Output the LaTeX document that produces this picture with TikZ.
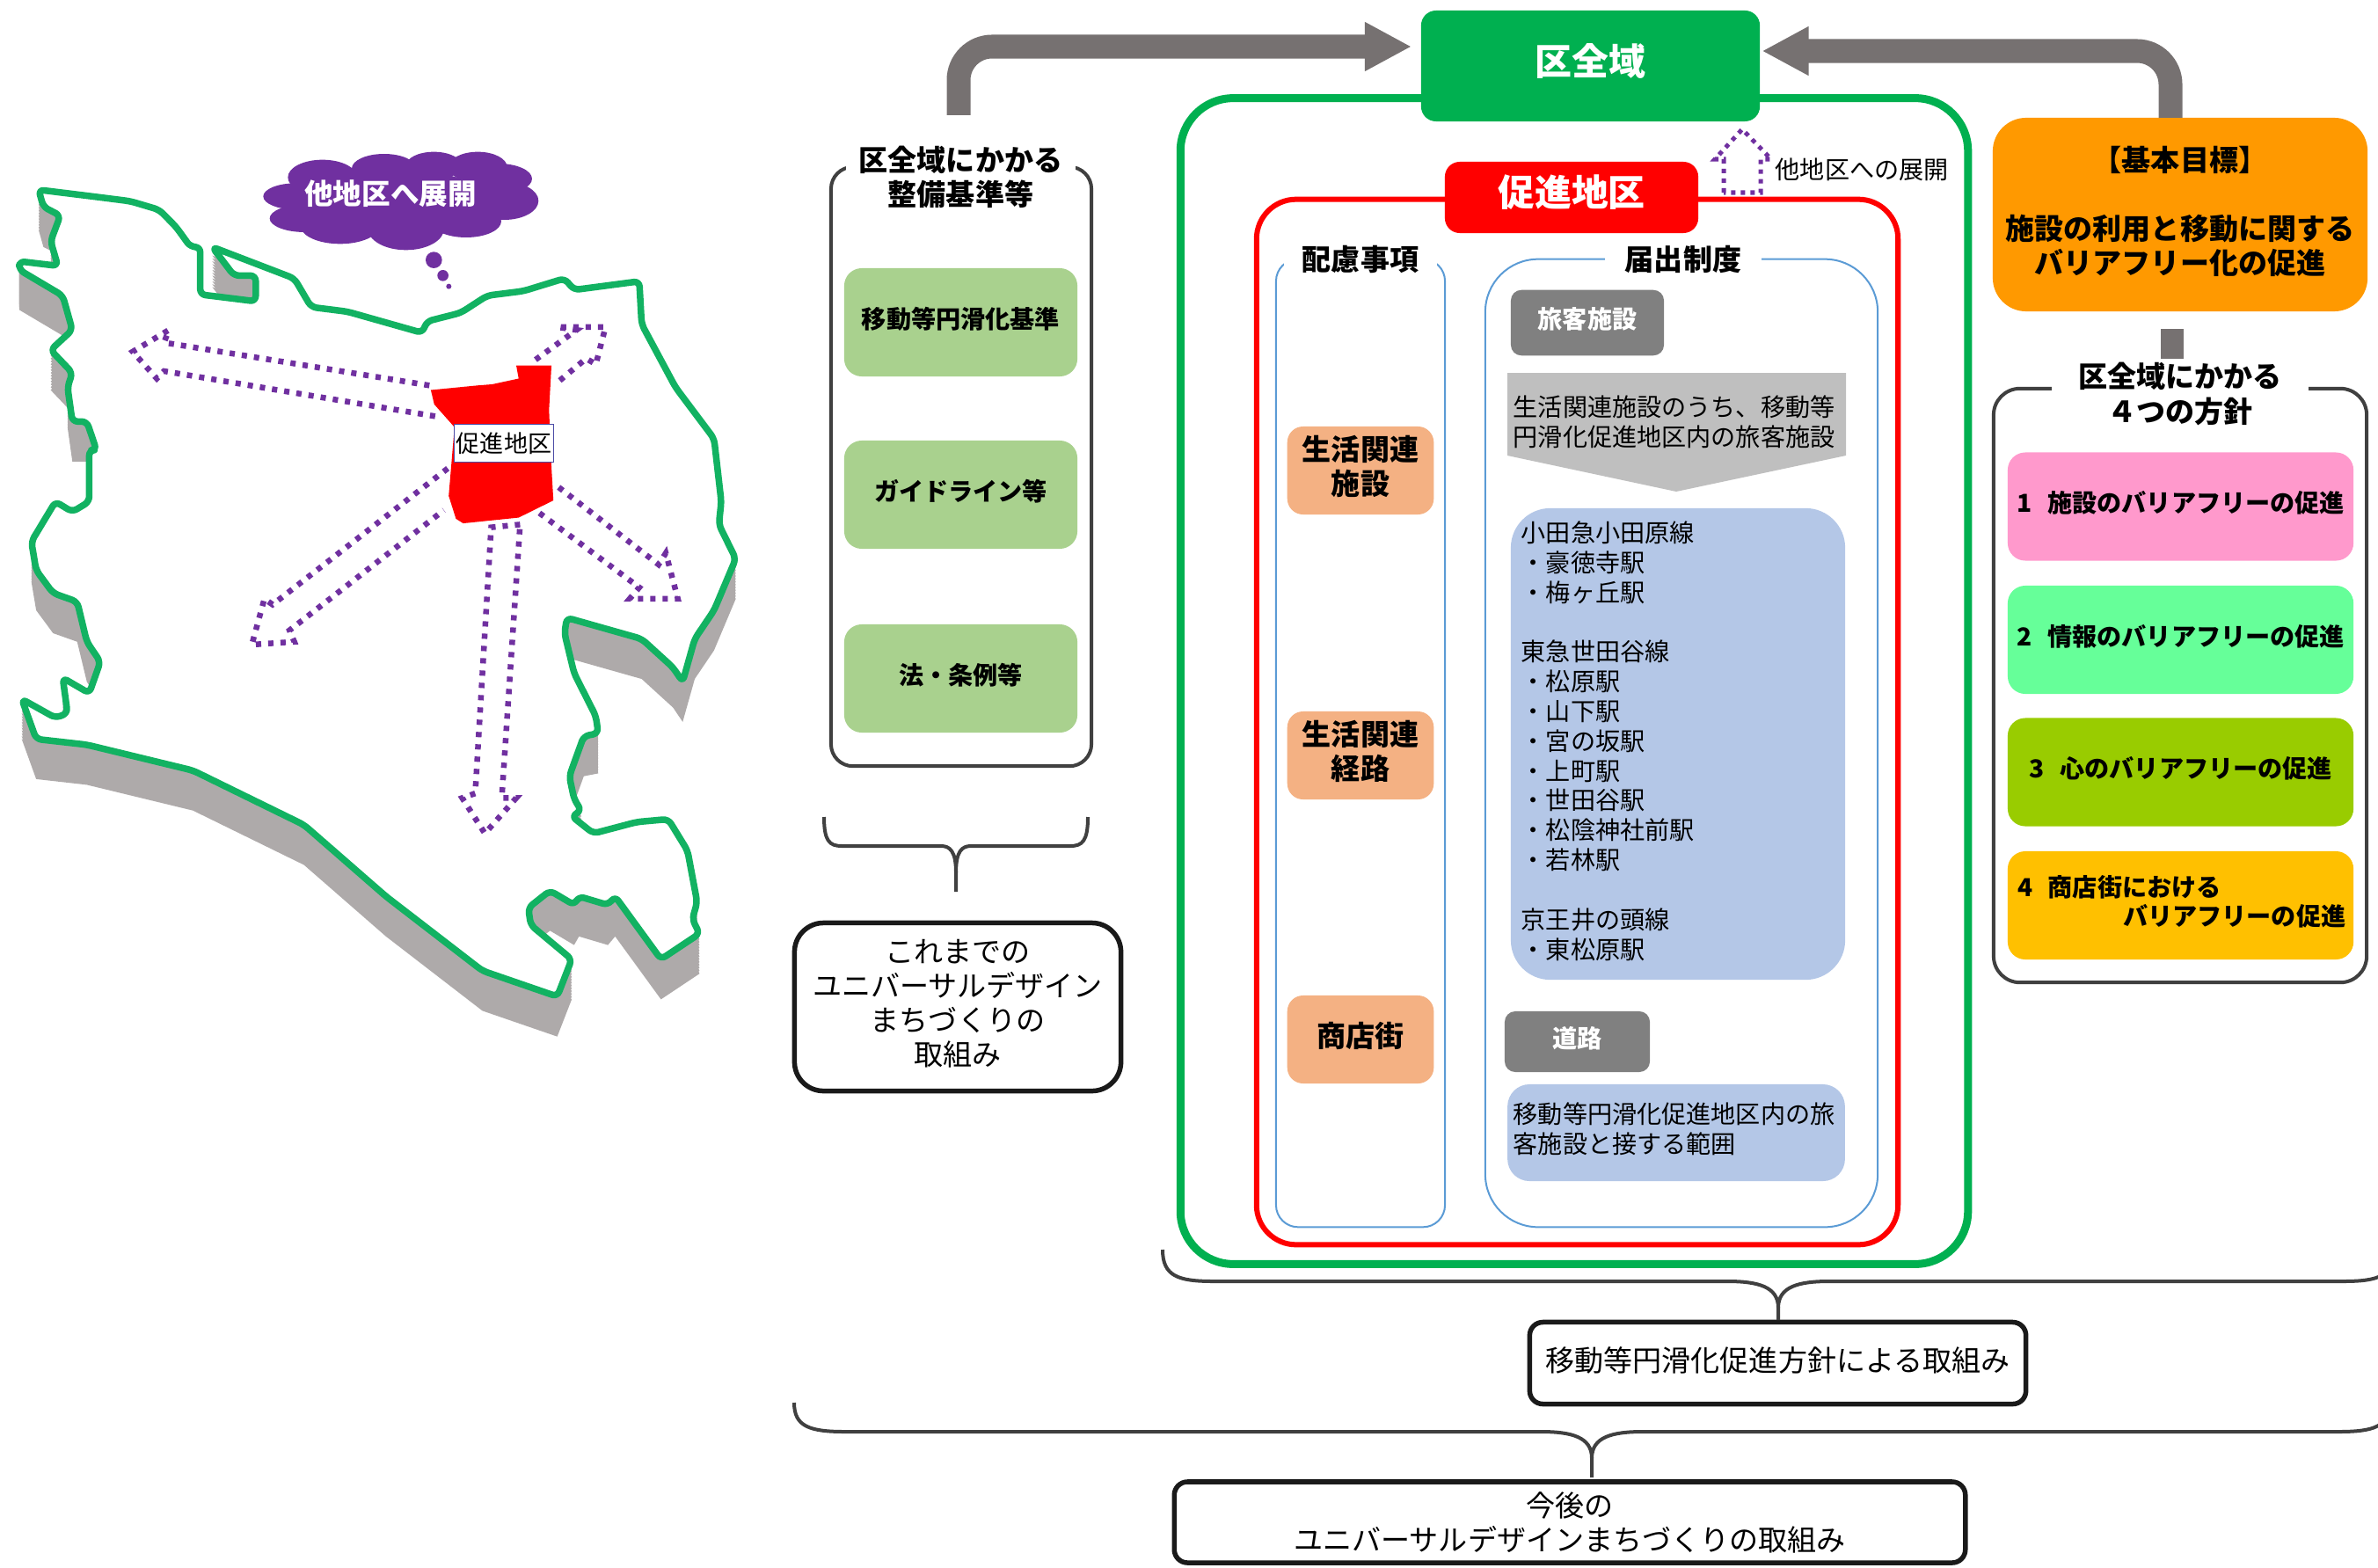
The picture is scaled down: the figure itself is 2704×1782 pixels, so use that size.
\documentclass[tikz,border=0pt]{standalone}
\usepackage{fontspec}
\setmainfont{Noto Sans CJK JP}
\usetikzlibrary{arrows.meta}

\definecolor{wardgreen}{HTML}{00B050}
\definecolor{mapgreen}{HTML}{12B262}
\definecolor{mapshadow}{HTML}{AEAAAA}
\definecolor{spreadpurple}{HTML}{7030A0}
\definecolor{arrowgrey}{HTML}{767171}
\definecolor{framegrey}{HTML}{404040}
\definecolor{boxblack}{HTML}{1A1A1A}
\definecolor{columnblue}{HTML}{5B9BD5}
\definecolor{standardgreen}{HTML}{A9D18E}
\definecolor{carepeach}{HTML}{F4B183}
\definecolor{stationblue}{HTML}{B4C7E7}
\definecolor{goalorange}{HTML}{FF9900}

\newcommand{\fsnormal}{\fontsize{8}{9.62}\selectfont}
\newcommand{\fslarge}{\fontsize{9.4}{11.1}\selectfont}
\newcommand{\fshuge}{\fontsize{11.9}{14}\selectfont}

\tikzset{
    frame/.style={draw, rounded corners=#1, inner sep=0pt},
    framelabel/.style={fill=white, inner sep=0pt, align=center, font=\fslarge\bfseries},
    filledcard/.style={rounded corners=0.2cm, inner sep=0pt, align=center, font=\fsnormal\bfseries,
        text height=0.25cm, text depth=0.12cm},
    titlebox/.style={rounded corners=0.17cm, inner sep=0pt, text=white, font=\fshuge\bfseries,
        text height=0.37cm, text depth=0.17cm},
    whitebox/.style={draw=boxblack, fill=white, line width=0.055cm, inner sep=0pt, align=center, font=\fslarge},
    greyarrow/.style={draw=arrowgrey, line width=0.27cm, rounded corners=0.38cm,
        -{Triangle[length=0.53cm,width=0.52cm]}},
    spread/.style={draw=spreadpurple, line width=0.065cm, dash pattern=on 0.06cm off 0.08cm},
    bracket/.style={draw=framegrey, line width=0.04cm}
}

\begin{document}
\begin{tikzpicture}[x=0.01cm, y=-0.01cm]
    \useasboundingbox (0,0) rectangle (2704,1782);

    % Outline of the ward
    \def\wardoutline{(80,55) -- (205,68) -- (270,75) -- (330,90) -- (365,120) -- (395,155) -- (415,155) -- (415,238) -- (530,250) -- (530,205) -- (485,205) -- (440,155) -- (610,210) -- (645,260) -- (720,268) -- (875,305) -- (885,285) -- (955,270) -- (1010,240) -- (1085,232) -- (1170,210) -- (1190,230) -- (1325,215) -- (1330,290) -- (1400,400) -- (1480,490) -- (1495,600) -- (1490,640) -- (1525,700) -- (1480,790) -- (1440,840) -- (1415,915) -- (1395,890) -- (1330,840) -- (1175,803) -- (1170,830) -- (1190,900) -- (1235,975) -- (1240,1005) -- (1210,1010) -- (1180,1080) -- (1190,1120) -- (1205,1140) -- (1185,1150) -- (1230,1180) -- (1320,1160) -- (1385,1155) -- (1425,1210) -- (1445,1300) -- (1435,1330) -- (1450,1355) -- (1370,1400) -- (1275,1290) -- (1260,1305) -- (1200,1290) -- (1190,1305) -- (1140,1280) -- (1095,1310) -- (1100,1340) -- (1185,1400) -- (1155,1465) -- (1000,1420) -- (800,1290) -- (630,1165) -- (400,1070) -- (180,1025) -- (75,1015) -- (45,945) -- (115,978) -- (140,970) -- (130,908) -- (185,935) -- (208,880) -- (180,845) -- (160,775) -- (110,760) -- (75,720) -- (65,670) -- (115,600) -- (150,618) -- (185,600) -- (185,510) -- (200,510) -- (180,460) -- (150,460) -- (140,400) -- (150,375) -- (105,335) -- (150,300) -- (130,240) -- (40,195) -- (40,180) -- (120,188) -- (105,145) -- (125,100) -- (90,85) -- cycle}

    \begin{scope}[shift={(0,180)}, xscale=0.5486, yscale=0.6506]
        % Shadow under the ward
        \foreach \d in {0,5,...,70} {
            \fill[mapshadow, shift={(0,\d)}] \wardoutline;
        }
        \draw[mapgreen, fill=white, line width=0.075cm, line join=round, rounded corners=0.06cm] \wardoutline;

        % Promotion district
        \fill[red] (893,405) -- (990,397) -- (1020,395) -- (1075,385) -- (1070,362) -- (1143,362) -- (1138,440) -- (1143,540) -- (1147,598) -- (1075,628) -- (960,638) -- (945,630) -- (930,590) -- (942,470) -- (900,430) -- cycle;

        % Dotted arrows going out of the district
        \draw[spread] (890,397) -- (340,322) -- (350,300) -- (275,338) -- (325,385) -- (340,372) -- (910,452);
        \draw[spread] (1110,352) -- (1195,300) -- (1155,295) -- (1255,295) -- (1235,360) -- (1215,350) -- (1155,392);
        \draw[spread] (1158,575) -- (1365,710) -- (1380,690) -- (1405,770) -- (1305,770) -- (1325,750) -- (1118,620);
        \draw[spread] (928,542) -- (565,780) -- (548,770) -- (522,850) -- (610,845) -- (600,825) -- (920,615);
        \draw[spread] (1078,640) -- (1018,645) -- (985,1110) -- (958,1118) -- (1005,1180) -- (1070,1118) -- (1040,1118) -- (1078,640);
    \end{scope}

    \node[draw=blue!50!black!70, fill=white, inner sep=0pt, minimum width=1.13cm, minimum height=0.435cm, font=\fontsize{7.7}{9}\selectfont] (districtlabel) at (573,504) {促進地区};

    % Thought cloud made of ellipses
    \begin{scope}[shift={(280,160)}, scale=0.3333]
        \foreach \cx/\cy/\rx/\ry in {170/190/112/45, 200/265/120/47, 260/125/118/60, 470/95/110/50, 640/85/95/47, 790/90/100/52, 860/130/115/52, 880/205/117/65, 750/275/120/55, 545/300/130/73, 320/290/135/62, 520/200/300/100} {
            \fill[spreadpurple] (\cx,\cy) ellipse [x radius=\rx, y radius=\ry];
        }
        \fill[spreadpurple] (640,407) circle (28);
        \fill[spreadpurple] (671,460) circle (19);
        \fill[spreadpurple] (691,497) circle (9);
    \end{scope}
    \node[text=white, inner sep=0pt, font=\fontsize{9.25}{11}\selectfont\bfseries] (spreadcloud) at (444,220) {他地区へ展開};

    % Standards column on the left
    \node[frame=0.25cm, draw=framegrey, line width=0.04cm, minimum width=2.96cm, minimum height=6.81cm] (standards) at (1093,530.5) {};
    \node[framelabel, minimum width=2.61cm, minimum height=0.9cm] (standardslabel) at (1092.5,201) {区全域にかかる\\整備基準等};
    \foreach \cy/\ctext/\cname in {366.5/移動等円滑化基準/law, 562.5/ガイドライン等/guide, 771.5/法・条例等/rule} {
        \node[filledcard, fill=standardgreen, minimum width=2.65cm, minimum height=1.23cm] (\cname) at (1092.5,\cy) {\ctext};
    }

    % Whole ward frame and title
    \node[frame=0.6cm, draw=wardgreen, line width=0.09cm, minimum width=8.95cm, minimum height=13.25cm] (wardframe) at (1790,774.5) {};
    \node[titlebox, fill=wardgreen, minimum width=3.85cm, minimum height=1.26cm] (wardbox) at (1808.5,75) {区全域};

    % Promotion district frame and title
    \node[frame=0.45cm, draw=red, line width=0.06cm, minimum width=7.29cm, minimum height=11.88cm] (districtframe) at (1793.5,821) {};
    \node[titlebox, fill=red, minimum width=2.88cm, minimum height=0.81cm] (districtbox) at (1787,224.5) {促進地区};

    % Small arrow and its text
    \draw[spreadpurple, line width=0.05cm, dash pattern=on 0.05cm off 0.06cm] (1960,219) -- (1960,181) -- (1950,181) -- (1981,147) -- (2014,181) -- (2002,181) -- (2002,219) -- cycle;
    \node[anchor=west, inner sep=0pt, font=\fsnormal] (spreadlabel) at (2018,193) {他地区への展開};

    % Two blue columns
    \node[frame=0.25cm, draw=columnblue, line width=0.02cm, minimum width=1.92cm, minimum height=11cm] (carecolumn) at (1547,845) {};
    \node[frame=0.6cm, draw=columnblue, line width=0.02cm, minimum width=4.46cm, minimum height=11cm] (noticecolumn) at (1912,845) {};
    \node[framelabel, minimum width=1.74cm, minimum height=0.4cm] (carelabel) at (1547,295) {配慮事項};
    \node[framelabel, minimum width=1.78cm, minimum height=0.4cm] (noticelabel) at (1914,295) {届出制度};

    % Items of care
    \foreach \cy/\ctext/\cname in {535/{生活関連\\施設}/carefacility, 859/{生活関連\\経路}/careroute, 1182/商店街/careshops} {
        \node[rounded corners=0.18cm, fill=carepeach, minimum width=1.665cm, minimum height=1cm, inner sep=0pt] (\cname) at (1547,\cy) {};
        \node[align=center, inner sep=0pt, yshift=0.045cm, font=\fslarge\bfseries] (\cname text) at (\cname.center) {\ctext};
    }

    % Passenger facilities
    \node[filledcard, rounded corners=0.12cm, fill=black!50, text=white, minimum width=1.74cm, minimum height=0.745cm] (facilitytag) at (1805,367) {旅客施設};
    \fill[black!25] (1714,424) -- (2099,424) -- (2099,518) -- (1906,559) -- (1714,518) -- cycle;
    \node[anchor=west, align=left, inner sep=0pt, font=\fsnormal] (facilitytext) at (1720,479.5) {生活関連施設のうち、移動等\\円滑化促進地区内の旅客施設};

    % Stations
    \node[rounded corners=0.45cm, fill=stationblue, minimum width=3.8cm, minimum height=5.36cm, inner sep=0pt] (stationbox) at (1908,846) {};
    \node[anchor=north west, align=left, inner sep=0pt, font=\fsnormal] (stationtext) at (1729,592) {小田急小田原線\\・豪徳寺駅\\・梅ヶ丘駅\\\mbox{}\\東急世田谷線\\・松原駅\\・山下駅\\・宮の坂駅\\・上町駅\\・世田谷駅\\・松陰神社前駅\\・若林駅\\\mbox{}\\京王井の頭線\\・東松原駅};

    % Roads
    \node[filledcard, rounded corners=0.12cm, fill=black!50, text=white, minimum width=1.65cm, minimum height=0.69cm] (roadtag) at (1793.5,1184.5) {道路};
    \node[rounded corners=0.25cm, fill=stationblue, minimum width=3.835cm, minimum height=1.1cm, inner sep=0pt] (roadbox) at (1906,1288) {};
    \node[anchor=west, align=left, inner sep=0pt, font=\fsnormal] (roadtext) at (1720,1284) {移動等円滑化促進地区内の旅\\客施設と接する範囲};

    % Basic goal
    \node[rounded corners=0.38cm, fill=goalorange, minimum width=4.26cm, minimum height=2.2cm, inner sep=0pt] (goalbox) at (2479,244) {};
    \node[align=center, inner sep=0pt, yshift=0.04cm, font=\fslarge\bfseries] (goaltext) at (goalbox.center) {【基本目標】\\[0.39cm]施設の利用と移動に関する\\バリアフリー化の促進};

    % Four policies
    \node[frame=0.3cm, draw=framegrey, line width=0.04cm, minimum width=4.24cm, minimum height=6.75cm] (policies) at (2479,779.5) {};
    \node[framelabel, minimum width=2.92cm, minimum height=0.8cm] (policieslabel) at (2479,448) {区全域にかかる\\４つの方針};
    \node[fill=arrowgrey, inner sep=0pt, minimum width=0.26cm, minimum height=0.34cm] (policyjoin) at (2470,391) {};
    \foreach \cy/\ccolor/\ctext/\cname in {576/FF99CC/{1\hspace{0.65em}施設のバリアフリーの促進}/policya, 727.5/66FF99/{2\hspace{0.65em}情報のバリアフリーの促進}/policyb, 878/99CC00/{3\hspace{0.65em}心のバリアフリーの促進}/policyc, 1029.5/FFC000/{}/policyd} {
        \definecolor{cardcolor}{HTML}{\ccolor}
        \node[filledcard, fill=cardcolor, minimum width=3.93cm, minimum height=1.23cm] (\cname) at (2479.5,\cy) {\ctext};
    }
    \node[anchor=west, inner sep=0pt, font=\fsnormal\bfseries] (policydfirst) at (2294,1009) {4\hspace{0.6em}商店街における};
    \node[anchor=east, inner sep=0pt, font=\fsnormal\bfseries] (policydsecond) at (2668,1042) {バリアフリーの促進};

    % Thick arrows to the ward box
    \coordinate (leftstart) at (1090,131);
    \coordinate (leftend) at (1605,53);
    \draw[greyarrow] (leftstart) |- (leftend);
    \coordinate (rightstart) at (2468,134);
    \coordinate (rightend) at (2003.5,58);
    \draw[greyarrow] (rightstart) |- (rightend);

    % Boxes under the columns
    \node[whitebox, rounded corners=0.33cm, minimum width=3.71cm, minimum height=1.91cm] (pastbox) at (1089,1145) {};
    \node[align=center, inner sep=0pt, yshift=0.04cm, font=\fslarge] (pasttext) at (pastbox.center) {これまでの\\ユニバーサルデザイン\\まちづくりの\\取組み};
    \node[whitebox, rounded corners=0.15cm, minimum width=5.64cm, minimum height=0.93cm, text height=0.3cm, text depth=0.12cm] (policybox) at (2021.5,1550) {移動等円滑化促進方針による取組み};
    \node[whitebox, rounded corners=0.15cm, minimum width=8.99cm, minimum height=0.92cm] (futurebox) at (1785,1731) {今後の\\ユニバーサルデザインまちづくりの取組み};

    % Braces, the two long ones run off the page
    \begin{scope}
        \clip (0,0) rectangle (2704,1782);
        \foreach \xl/\xm/\xr/\ytop/\ybar/\yend/\rside/\rmid in {937/1087/1237/929/962/1014/20/17, 1322/2022/2722/1421/1457/1501/58/58, 903/1810/2717/1595/1628/1680/58/58} {
            \draw[bracket] (\xl,\ytop) .. controls (\xl,\ybar-6) and (\xl+\rside*0.3,\ybar) .. (\xl+\rside,\ybar) -- (\xm-\rmid,\ybar) .. controls (\xm-\rmid*0.4,\ybar) and (\xm,\ybar+6) .. (\xm,\ybar+30) -- (\xm,\yend);
            \draw[bracket] (\xr,\ytop) .. controls (\xr,\ybar-6) and (\xr-\rside*0.3,\ybar) .. (\xr-\rside,\ybar) -- (\xm+\rmid,\ybar) .. controls (\xm+\rmid*0.4,\ybar) and (\xm,\ybar+6) .. (\xm,\ybar+30);
        }
    \end{scope}
\end{tikzpicture}
\end{document}
